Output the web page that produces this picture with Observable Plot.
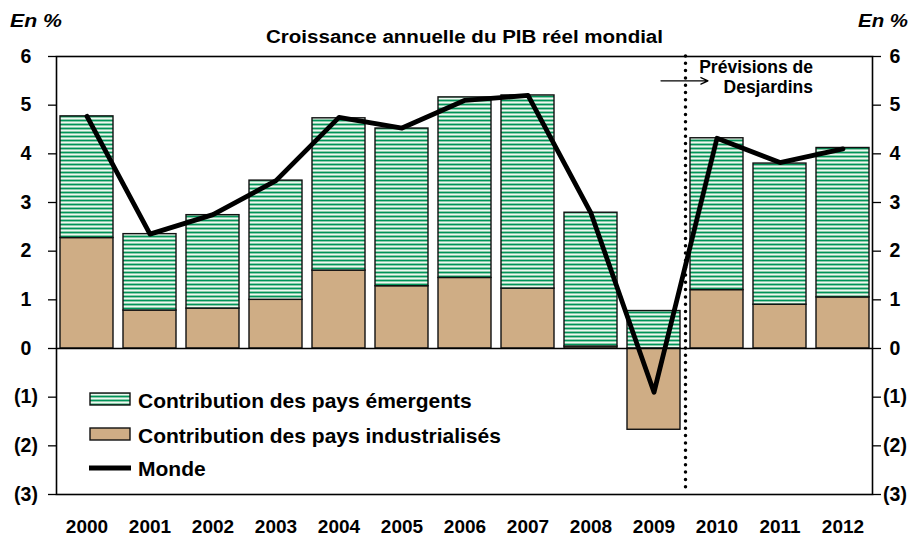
<!DOCTYPE html>
<html>
<head>
<meta charset="utf-8">
<script src="https://cdn.jsdelivr.net/npm/d3@7"></script>
<script src="https://cdn.jsdelivr.net/npm/@observablehq/plot@0.6"></script>
<style>
  html, body { margin: 0; padding: 0; background: #fff; }
  #chart { width: 914px; height: 538px; }
</style>
</head>
<body>
<div id="chart"></div>
<script>
// ---- Data ----
const years = ["2000","2001","2002","2003","2004","2005","2006","2007","2008","2009","2010","2011","2012"];
const industrialises = [2.27, 0.78, 0.82, 1.00, 1.60, 1.28, 1.45, 1.23, 0.04, -1.67, 1.20, 0.90, 1.05];
const emergents      = [2.50, 1.57, 1.92, 2.45, 3.13, 3.24, 3.71, 3.97, 2.75, 0.77, 3.12, 2.90, 3.07];
const monde          = [4.77, 2.35, 2.75, 3.45, 4.75, 4.53, 5.10, 5.20, 2.78, -0.90, 4.32, 3.82, 4.10];
const yTicks = [-3, -2, -1, 0, 1, 2, 3, 4, 5, 6];
const seriesNames = ["Contribution des pays émergents", "Contribution des pays industrialisés", "Monde"];
const title = "Croissance annuelle du PIB réel mondial";
const unitLabel = "En %";
const forecastLabel = ["Prévisions de", "Desjardins"];
const forecastStart = "2010";

// ---- Build tables ----
const stacked = [];
years.forEach((y, i) => {
  stacked.push({year: y, series: "ind", value: industrialises[i]});
  stacked.push({year: y, series: "em", value: emergents[i]});
});
const world = years.map((y, i) => ({year: y, value: monde[i]}));
const fmt = v => v < 0 ? `(${-v})` : `${v}`;

const TAN = "#cfad85";
const FONT = "'Liberation Sans', Arial, sans-serif";

const plot = Plot.plot({
  width: 914,
  height: 538,
  marginLeft: 56,
  marginRight: 42,
  marginTop: 56,
  marginBottom: 44,
  style: {fontFamily: FONT, fontSize: "19px", fontWeight: "bold", color: "#000", background: "#fff"},
  x: {domain: years, paddingInner: 0.16, paddingOuter: 0.055, label: null},
  y: {domain: [-3, 6], label: null},
  color: {domain: ["ind", "em"], range: [TAN, "url(#stripes)"]},
  marks: [
    Plot.barY(stacked, {x: "year", y: "value", z: "series", fill: "series", order: ["ind", "em"], stroke: "#111", strokeWidth: 1.4}),
    Plot.ruleY([0], {stroke: "#000", strokeWidth: 1.4}),
    Plot.ruleX([forecastStart], {dx: -31.5, stroke: "#000", strokeWidth: 3.5, strokeDasharray: "0 7.3", strokeLinecap: "round"}),
    Plot.line(world, {x: "year", y: "value", stroke: "#000", strokeWidth: 4.8, strokeLinejoin: "round"}),
    Plot.arrow([{a: "2009", b: "2010", y: 5.5}], {x1: "a", x2: "b", y1: "y", y2: "y", insetStart: 7, insetEnd: 9, stroke: "#000", strokeWidth: 1.3, headLength: 9, headAngle: 50, bend: 0}),
    Plot.text([{x: "2011", y: 5.78, t: forecastLabel[0]}, {x: "2011", y: 5.36, t: forecastLabel[1]}],
      {x: "x", y: "y", text: "t", textAnchor: "end", dx: 33, fontSize: 17.5, fontWeight: "bold", fill: "#000"}),
    Plot.frame({stroke: "#000", strokeWidth: 1.6}),
    Plot.axisY(yTicks, {anchor: "left", tickSize: 8, tickPadding: 22.5, textAnchor: "middle", tickFormat: fmt, fontSize: 19.5, fontWeight: "bold", strokeWidth: 1.3, label: null}),
    Plot.axisY(yTicks, {anchor: "right", tickSize: 8, tickPadding: 14.5, textAnchor: "middle", tickFormat: fmt, fontSize: 19.5, fontWeight: "bold", strokeWidth: 1.3, label: null}),
    Plot.axisX({anchor: "bottom", tickSize: 0, tickPadding: 25, fontSize: 19, fontWeight: "bold", label: null})
  ]
});

// pattern for emerging countries
const svg = d3.select(plot);
const defs = svg.insert("defs", ":first-child");
const pat = defs.append("pattern").attr("id", "stripes").attr("patternUnits", "userSpaceOnUse")
  .attr("width", 8).attr("height", 4);
pat.append("rect").attr("width", 8).attr("height", 4).attr("fill", "#8ccdab");
pat.append("rect").attr("y", 0).attr("width", 8).attr("height", 1).attr("fill", "#00935a");
pat.append("rect").attr("y", 2).attr("width", 8).attr("height", 1).attr("fill", "#eef8f2");

// titles
const tg = svg.append("g").attr("font-family", FONT).attr("font-weight", "bold").attr("fill", "#000");
tg.append("text").attr("x", 464.5).attr("y", 43).attr("text-anchor", "middle")
  .attr("font-size", 18).attr("textLength", 397).attr("lengthAdjust", "spacingAndGlyphs").text(title);
tg.append("text").attr("x", 10).attr("y", 27).attr("text-anchor", "start")
  .attr("font-size", 18.5).attr("font-style", "italic").attr("textLength", 52).attr("lengthAdjust", "spacingAndGlyphs").text(unitLabel);
tg.append("text").attr("x", 908).attr("y", 27).attr("text-anchor", "end")
  .attr("font-size", 18.5).attr("font-style", "italic").attr("textLength", 50).attr("lengthAdjust", "spacingAndGlyphs").text(unitLabel);

// legend
const lg = svg.append("g").attr("font-family", FONT).attr("font-size", 21).attr("font-weight", "bold").attr("text-anchor", "start").attr("fill", "#000");
lg.append("rect").attr("x", 90).attr("y", 393).attr("width", 40).attr("height", 12)
  .attr("fill", "url(#stripes)").attr("stroke", "#111").attr("stroke-width", 1.4);
lg.append("text").attr("x", 138).attr("y", 400).attr("dy", "0.36em").text(seriesNames[0]);
lg.append("rect").attr("x", 90).attr("y", 428).attr("width", 40).attr("height", 12)
  .attr("fill", TAN).attr("stroke", "#111").attr("stroke-width", 1.4);
lg.append("text").attr("x", 138).attr("y", 435).attr("dy", "0.36em").text(seriesNames[1]);
lg.append("line").attr("x1", 89).attr("x2", 131).attr("y1", 468).attr("y2", 468)
  .attr("stroke", "#000").attr("stroke-width", 4.8);
lg.append("text").attr("x", 138).attr("y", 468).attr("dy", "0.36em").text(seriesNames[2]);

document.getElementById("chart").appendChild(plot);
</script>
</body>
</html>
